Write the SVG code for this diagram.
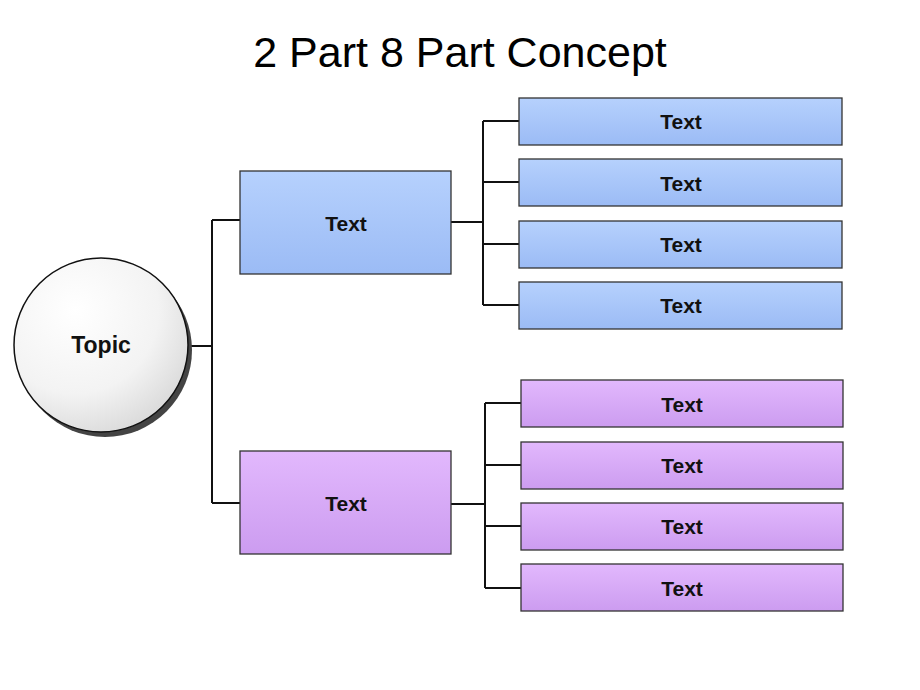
<svg xmlns="http://www.w3.org/2000/svg" width="920" height="690" viewBox="0 0 920 690">
<defs>
<linearGradient id="gBlue" x1="0" y1="0" x2="0" y2="1"><stop offset="0" stop-color="#b6d1fd"/><stop offset="1" stop-color="#9bbbf5"/></linearGradient>
<linearGradient id="gPurple" x1="0" y1="0" x2="0" y2="1"><stop offset="0" stop-color="#e2b8fd"/><stop offset="1" stop-color="#cc9cf0"/></linearGradient>
<radialGradient id="gCircle" cx="0.35" cy="0.3" r="0.8"><stop offset="0" stop-color="#ffffff"/><stop offset="0.6" stop-color="#f3f3f3"/><stop offset="1" stop-color="#d6d6d6"/></radialGradient>
<style>
.lbl{font-family:"Liberation Sans",Arial,sans-serif;font-weight:bold;font-size:21px;fill:#111;text-anchor:middle;dominant-baseline:central}
.blue{fill:url(#gBlue);stroke:#333;stroke-width:1.3}
.purple{fill:url(#gPurple);stroke:#333;stroke-width:1.3}
.conn{fill:none;stroke:#111;stroke-width:2}
</style>
</defs>
<rect width="920" height="690" fill="#fff"/>
<text x="460" y="67" font-family="Liberation Sans,Arial,sans-serif" font-size="43" text-anchor="middle" fill="#000">2 Part 8 Part Concept</text>
<g id="connectors">
<path class="conn" d="M188 346H212M212 220V503M212 220H240M212 503H240"/>
<path class="conn" d="M451 222H483M483 121V305M483 121H519M483 182H519M483 244H519M483 305H519"/>
<path class="conn" d="M451 504H485M485 403V588M485 403H521M485 465H521M485 526H521M485 588H521"/>
</g>
<g id="topic">
<circle cx="105" cy="350" r="87" fill="#444"/>
<circle cx="101" cy="345" r="87" fill="url(#gCircle)" stroke="#111" stroke-width="1.5"/>
<text class="lbl" x="101" y="345" font-size="23" style="font-size:23px">Topic</text>
</g>
<g id="mid1"><rect class="blue" x="240" y="171" width="211" height="103"/><text class="lbl" x="346" y="223">Text</text></g>
<g id="mid2"><rect class="purple" x="240" y="451" width="211" height="103"/><text class="lbl" x="346" y="503">Text</text></g>
<g id="b1"><rect class="blue" x="519" y="98" width="323" height="47"/><text class="lbl" x="681" y="121">Text</text></g>
<g id="b2"><rect class="blue" x="519" y="159" width="323" height="47"/><text class="lbl" x="681" y="183">Text</text></g>
<g id="b3"><rect class="blue" x="519" y="221" width="323" height="47"/><text class="lbl" x="681" y="244">Text</text></g>
<g id="b4"><rect class="blue" x="519" y="282" width="323" height="47"/><text class="lbl" x="681" y="305">Text</text></g>
<g id="p1"><rect class="purple" x="521" y="380" width="322" height="47"/><text class="lbl" x="682" y="404">Text</text></g>
<g id="p2"><rect class="purple" x="521" y="442" width="322" height="47"/><text class="lbl" x="682" y="465">Text</text></g>
<g id="p3"><rect class="purple" x="521" y="503" width="322" height="47"/><text class="lbl" x="682" y="526">Text</text></g>
<g id="p4"><rect class="purple" x="521" y="564" width="322" height="47"/><text class="lbl" x="682" y="588">Text</text></g>
</svg>
